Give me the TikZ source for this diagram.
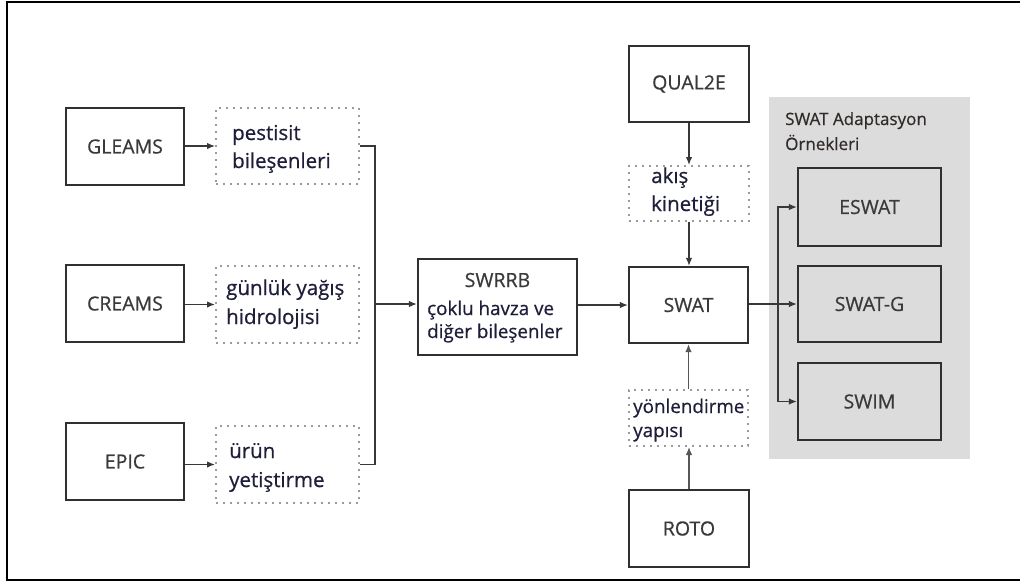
\documentclass[tikz,border=0pt]{standalone}
\usepackage{fontspec}
\setmainfont{Open Sans}[FakeBold=0.6]
\usetikzlibrary{arrows.meta}
\definecolor{linec}{HTML}{303030}
\definecolor{labelc}{HTML}{3A3A3A}
\definecolor{notec}{HTML}{1E1E3A}
\definecolor{dotc}{HTML}{9A9A9A}
\definecolor{arrc}{HTML}{383838}
\definecolor{panelc}{HTML}{DCDCDC}
\definecolor{titlec}{HTML}{302A28}
\begin{document}
\begin{tikzpicture}[x=1pt,y=-1pt,
  model/.style={draw=linec,line width=2.2pt,fill=white,text=labelc,
    font=\fontsize{19.5}{23}\selectfont,inner sep=0pt},
  inner/.style={model,fill=panelc},
  dotbox/.style={draw=dotc,line width=2pt,dash pattern=on 2pt off 5pt,
    fill=white,inner sep=0pt},
  note/.style={anchor=base west,inner sep=0pt,text=notec,
    font=\fontsize{20.5}{24}\selectfont},
  smallnote/.style={note,font=\fontsize{18.8}{22}\selectfont},
  ptitle/.style={anchor=base west,inner sep=0pt,text=titlec,
    font=\fontsize{17}{20}\selectfont},
  conn/.style={draw=arrc,line width=1.3pt,-{Latex[length=8pt,width=6.5pt]}},
  wire/.style={draw=arrc,line width=1.3pt},
  size/.style 2 args={minimum width=#1,minimum height=#2}]
\useasboundingbox (0,0) rectangle (1020,582);
% frame
\draw[line width=2pt,black] (1022,2) -- (7,2) -- (7,580) -- (1022,580);

% adaptation panel
\fill[panelc] (769,97) rectangle (970,459);
\node[ptitle] (ptitle1) at (785,125) {SWAT Adaptasyon};
\node[ptitle] (ptitle2) at (785,150) {Örnekleri};

% source models
\node[model,size={118pt}{77pt}] (gleams) at (125,146.5) {GLEAMS};
\node[model,size={118pt}{77pt}] (creams) at (125,303.5) {CREAMS};
\node[model,size={118pt}{77pt}] (epic) at (125,461.5) {EPIC};

% contributed components
\node[dotbox,size={143pt}{76pt}] (pest) at (287.5,146) {};
\node[note] (pest1) at (232,140) {pestisit};
\node[note] (pest2) at (232,168) {bileşenleri};
\node[dotbox,size={143pt}{77pt}] (gunluk) at (287.5,304.5) {};
\node[note] (gun1) at (226,295) {günlük yağış};
\node[note] (gun2) at (226,324) {hidrolojisi};
\node[dotbox,size={143pt}{77pt}] (urun) at (287.5,464.5) {};
\node[note] (urun1) at (229,458) {ürün};
\node[note] (urun2) at (229,487) {yetiştirme};

% SWRRB
\node[model,size={159pt}{96pt}] (swrrb) at (497.5,307) {};
\node[anchor=base,inner sep=0pt,text=labelc,font=\fontsize{19.5}{23}\selectfont]
  (swrrbT) at (497.5,287) {SWRRB};
\node[note,font=\fontsize{18.8}{22}\selectfont] (swrrb1) at (427,315) {çoklu havza ve};
\node[note,font=\fontsize{18.8}{22}\selectfont] (swrrb2) at (427,338) {diğer bileşenler};

% SWAT column
\node[model,size={120pt}{76pt}] (qual) at (689,84) {QUAL2E};
\node[dotbox,size={120pt}{55pt}] (akis) at (689,193.5) {};
\node[note] (akis1) at (651,183) {akış};
\node[note] (akis2) at (651,211) {kinetiği};
\node[model,size={119pt}{76pt}] (swat) at (688.5,305) {SWAT};
\node[dotbox,size={119pt}{56pt}] (yon) at (688.5,418) {};
\node[smallnote] (yon1) at (633,413) {yönlendirme};
\node[smallnote] (yon2) at (633,437) {yapısı};
\node[model,size={120pt}{77pt}] (roto) at (689,528.5) {ROTO};

% adaptations
\node[inner,size={143pt}{78pt}] (eswat) at (869.5,207) {ESWAT};
\node[inner,size={143pt}{76pt}] (swatg) at (869.5,304) {SWAT-G};
\node[inner,size={143pt}{77pt}] (swim) at (869.5,401.5) {SWIM};

% connectors: left side
\draw[conn] (gleams.east |- pest.west) -- (pest.west);
\draw[conn] (creams.east |- gunluk.west) -- (gunluk.west);
\draw[conn] (epic.east |- urun.west) -- (urun.west);
\coordinate (lbus) at (375,304);
\draw[wire] (pest.east) -| (lbus);
\draw[wire] (urun.east) -| (lbus);
\draw[conn] (lbus) -- (lbus -| swrrb.west);
\draw[conn] (swrrb.east |- swat.west) -- (swat.west);

% connectors: SWAT column
\draw[conn] (qual.south) -- (qual.south |- akis.north);
\draw[conn] (akis.south) -- (akis.south |- swat.north);
\draw[conn,draw=arrc!85] (roto.north) -- (roto.north |- yon.south);
\draw[conn,draw=arrc!85] (yon.north) -- (yon.north |- swat.south);

% connectors: adaptations
\coordinate (rbus) at (778,304);
\draw[conn] (swat.east |- swatg.west) -- (swatg.west);
\draw[conn] (rbus) |- (eswat.west);
\draw[conn] (rbus) |- (swim.west);
\end{tikzpicture}
\end{document}
